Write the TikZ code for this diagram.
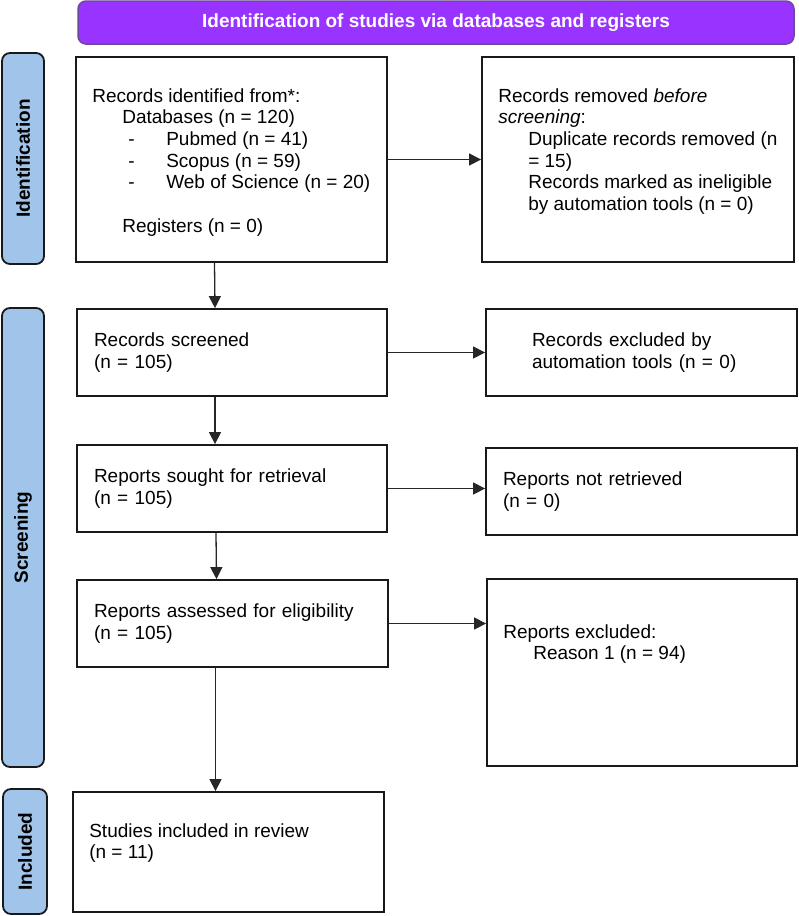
\documentclass[tikz,border=0pt]{standalone}
\usepackage{fontspec}
\setmainfont{Liberation Sans}
\usetikzlibrary{arrows.meta}

\definecolor{headpurple}{HTML}{9933FF}
\definecolor{headedge}{HTML}{6B4A9A}
\definecolor{barblue}{HTML}{A0C4EA}

\begin{document}
\begin{tikzpicture}[x=1pt, y=-1pt,
        box/.style={rectangle, draw=black!90, line width=1.8pt, align=left, inner xsep=17pt, inner ysep=0pt, font=\fontsize{19}{21.7}\selectfont},
        note/.style={align=left, inner sep=0pt, font=\fontsize{19}{21.7}\selectfont},
        header/.style={rectangle, rounded corners=8pt, draw=headedge, line width=1.5pt, fill=headpurple, text=white, font=\fontsize{19}{22}\selectfont\bfseries, minimum width=716pt, minimum height=43pt},
        sidebar/.style={rectangle, rounded corners=8pt, draw=black!90, line width=1.8pt, fill=barblue, rotate=90, minimum height=42pt, font=\fontsize{19}{22}\selectfont\bfseries},
        arrow/.style={-{Triangle[length=12pt,width=12pt]}, line width=1.3pt, black!85}
    ]
    \useasboundingbox (0,0) rectangle (799,916);

    % Header
    \node[header] (head) at (436,22.5) {Identification of studies via databases and registers};

    % Phase bars (left)
    \node[sidebar, minimum width=211pt] (identbar) at (23,158.5) {Identification};
    \node[sidebar, minimum width=459pt] (screenbar) at (23,537.5) {Screening};
    \node[sidebar, minimum width=125pt, minimum height=44pt] (inclbar) at (25,851.5) {Included};

    % Main flow (middle)
    \node[box, text width=277pt, minimum height=205pt] (ident) at (231.5,159.5) {};
    \node[note, anchor=north west] (identtext) at ([xshift=17pt, yshift=-32pt]ident.north west) {Records identified from*:\\
        \hspace*{30pt}Databases (n = 120)\\
        \hspace*{36pt}\makebox[38pt][l]{-}Pubmed (n = 41)\\
        \hspace*{36pt}\makebox[38pt][l]{-}Scopus (n = 59)\\
        \hspace*{36pt}\makebox[38pt][l]{-}Web of Science (n = 20)\\[21.7pt]
        \hspace*{30pt}Registers (n = 0)};
    \node[box, text width=276pt, minimum height=87pt] (screened) at (232,352.5) {Records screened\\(n = 105)};
    \node[box, text width=276pt, minimum height=87pt] (sought) at (232,488.5) {Reports sought for retrieval\\(n = 105)};
    \node[box, text width=277pt, minimum height=87pt] (assessed) at (232.5,623.5) {Reports assessed for eligibility\\(n = 105)};
    \node[box, text width=277pt, minimum height=120pt] (included) at (228.5,852) {};
    \node[note, anchor=north west] (includedtext) at ([xshift=17pt, yshift=-32pt]included.north west) {Studies included in review\\(n = 11)};

    % Excluded records (right)
    \node[box, text width=278pt, minimum height=205pt] (removed) at (638,159.5) {};
    \node[note, anchor=north west] (removedtext) at ([xshift=17pt, yshift=-32pt]removed.north west) {Records removed \textit{before}\\
        \textit{screening}:\\
        \hspace*{30pt}Duplicate records removed (n\\
        \hspace*{30pt}= 15)\\
        \hspace*{30pt}Records marked as ineligible\\
        \hspace*{30pt}by automation tools (n = 0)};
    \node[box, inner xsep=46pt, text width=219pt, minimum height=87pt] (autoexcl) at (641.5,352.5) {Records excluded by\\automation tools (n = 0)};
    \node[box, text width=277pt, minimum height=87pt] (notretr) at (641.5,491.5) {Reports not retrieved\\(n = 0)};
    \node[box, text width=276pt, minimum height=187pt] (repexcl) at (642,672.5) {};
    \node[note, anchor=north west] (repexcltext) at ([xshift=17pt, yshift=-46pt]repexcl.north west) {Reports excluded:\\\hspace*{30pt}Reason 1 (n = 94)};

    % Arrows down
    \draw[arrow] ([xshift=-17pt]ident.south) -- ([xshift=-17pt]screened.north);
    \draw[arrow] ([xshift=-17pt]screened.south) -- ([xshift=-17pt]sought.north);
    \draw[arrow] ([xshift=-16pt]sought.south) -- ([xshift=-16pt]assessed.north);
    \draw[arrow] ([xshift=-17pt]assessed.south) -- ([xshift=-13pt]included.north);

    % Arrows right
    \draw[arrow] (ident.east) -- (removed.west);
    \draw[arrow] (screened.east) -- (autoexcl.west);
    \draw[arrow] (sought.east) -- (sought.east -| notretr.west);
    \draw[arrow] (assessed.east) -- (assessed.east -| repexcl.west);

\end{tikzpicture}
\end{document}
